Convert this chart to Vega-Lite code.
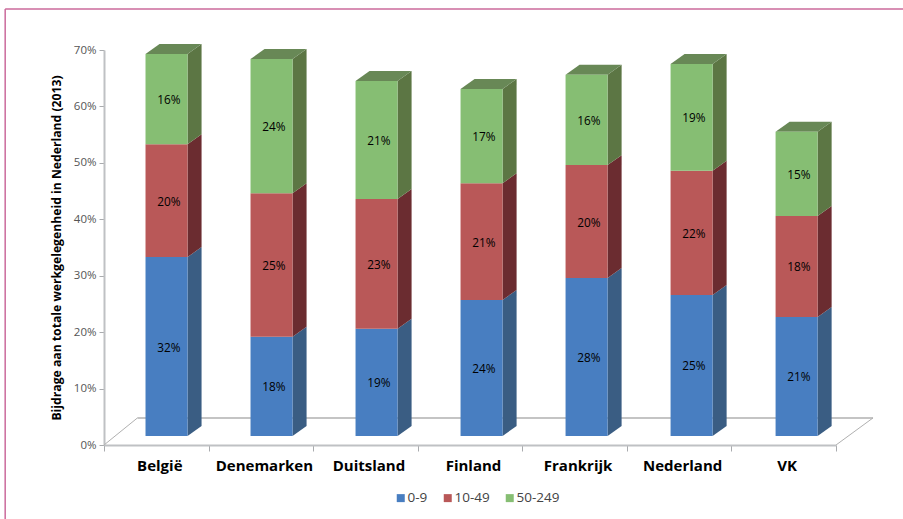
{
"$schema":"https://vega.github.io/schema/vega-lite/v6.json",
"width":732,"height":395,
"autosize":"none",
"padding":{"left":104,"top":50,"right":67,"bottom":74},
"background":"white",
"config":{"view":{"stroke":null},"font":"Open Sans"},
"data":{"values":[
{"land":"België","groep":"0-9","waarde":0.317},{"land":"België","groep":"10-49","waarde":0.2},{"land":"België","groep":"50-249","waarde":0.16},
{"land":"Denemarken","groep":"0-9","waarde":0.176},{"land":"Denemarken","groep":"10-49","waarde":0.254},{"land":"Denemarken","groep":"50-249","waarde":0.238},
{"land":"Duitsland","groep":"0-9","waarde":0.19},{"land":"Duitsland","groep":"10-49","waarde":0.23},{"land":"Duitsland","groep":"50-249","waarde":0.209},
{"land":"Finland","groep":"0-9","waarde":0.241},{"land":"Finland","groep":"10-49","waarde":0.207},{"land":"Finland","groep":"50-249","waarde":0.167},
{"land":"Frankrijk","groep":"0-9","waarde":0.28},{"land":"Frankrijk","groep":"10-49","waarde":0.2},{"land":"Frankrijk","groep":"50-249","waarde":0.16},
{"land":"Nederland","groep":"0-9","waarde":0.25},{"land":"Nederland","groep":"10-49","waarde":0.22},{"land":"Nederland","groep":"50-249","waarde":0.189},
{"land":"VK","groep":"0-9","waarde":0.211},{"land":"VK","groep":"10-49","waarde":0.179},{"land":"VK","groep":"50-249","waarde":0.149}
]},
"transform":[
{"calculate":"indexof(['België','Denemarken','Duitsland','Finland','Frankrijk','Nederland','VK'],datum.land)*1.0042","as":"i"},
{"stack":"waarde","groupby":["land"],"sort":[{"field":"groep","order":"ascending"}],"as":["s0","s1"]},
{"calculate":"datum.s0+0.016","as":"a"},
{"calculate":"datum.s1+0.016","as":"b"},
{"calculate":"(datum.a+datum.b)/2","as":"m"},
{"calculate":"datum.i+0.397","as":"xl"},
{"calculate":"datum.i+0.799","as":"xr"},
{"calculate":"datum.i+0.62","as":"xt"},
{"calculate":"datum.land+datum.groep","as":"key"},
{"calculate":"[0,1]","as":"d"},
{"flatten":["d"]},
{"calculate":"datum.xr+datum.d*0.134","as":"sx"},
{"calculate":"datum.a+datum.d*0.0177","as":"sa"},
{"calculate":"datum.b+datum.d*0.0177","as":"sb"},
{"calculate":"datum.xl+datum.d*0.134","as":"tx1"},
{"calculate":"datum.xr+datum.d*0.134","as":"tx2"}
],
"layer":[
{"mark":{"type":"rect","opacity":0},
 "encoding":{
  "x":{"field":"land","type":"nominal","sort":null,"scale":{"type":"band","paddingInner":0,"paddingOuter":0},
   "axis":{"title":null,"labelAngle":0,"bandPosition":0,"tickBand":"extent","labelFont":"Open Sans","labelFontWeight":"bold","labelFontSize":15,"labelColor":"#000000","labelPadding":7,"labelOffset":3,"tickSize":6,"tickColor":"#a9abae","domainColor":"#bfc1c4","domainWidth":2,"tickWidth":1,"grid":false}},
  "y":{"field":"a","type":"quantitative","stack":null,"scale":{"domain":[0,0.7],"nice":false},
   "axis":{"title":"Bijdrage aan totale werkgelegenheid in Nederland (2013)","titleFont":"Open Sans","titleFontWeight":"bold","titleFontSize":12.2,"titleColor":"#000000","titlePadding":10,"format":".0%","values":[0,0.1,0.2,0.3,0.4,0.5,0.6,0.7],"labelFont":"Open Sans","labelFontSize":11.5,"labelColor":"#555555","labelPadding":3,"tickSize":5,"tickColor":"#a9abae","domainColor":"#bfc1c4","domainWidth":2,"grid":false}}
 }},
{"data":{"values":[{}]},"mark":{"type":"rule","color":"#c4c4c4","strokeWidth":2},
 "encoding":{"x":{"datum":0.32,"type":"quantitative","scale":{"domain":[0,7]},"axis":null},"x2":{"datum":7.354},"y":{"datum":0.048,"type":"quantitative"}}},
{"data":{"values":[{}]},"mark":{"type":"rule","color":"#b0b0b0","strokeWidth":1},
 "encoding":{"x":{"datum":0,"type":"quantitative","scale":{"domain":[0,7]},"axis":null},"x2":{"datum":0.32},"y":{"datum":0,"type":"quantitative"},"y2":{"datum":0.048}}},
{"data":{"values":[{}]},"mark":{"type":"rule","color":"#b0b0b0","strokeWidth":1},
 "encoding":{"x":{"datum":7,"type":"quantitative","scale":{"domain":[0,7]},"axis":null},"x2":{"datum":7.354},"y":{"datum":0,"type":"quantitative"},"y2":{"datum":0.048}}},
{"data":{"values":[{}]},"mark":{"type":"rule","color":"#cb6a9b","strokeWidth":1.5},
 "encoding":{"x":{"datum":-0.945,"type":"quantitative","scale":{"domain":[0,7]},"axis":null},"y":{"datum":0.7727,"type":"quantitative"},"y2":{"datum":-0.14}}},
{"data":{"values":[{}]},"mark":{"type":"rule","color":"#cb6a9b","strokeWidth":1.5},
 "encoding":{"x":{"datum":-0.945,"type":"quantitative","scale":{"domain":[0,7]},"axis":null},"x2":{"datum":7.65},"y":{"datum":0.7727,"type":"quantitative"}}},
{"mark":{"type":"area","orient":"vertical"},
 "encoding":{
  "x":{"field":"sx","type":"quantitative","scale":{"domain":[0,7]},"axis":null},
  "y":{"field":"sa","type":"quantitative","stack":null},
  "y2":{"field":"sb"},
  "detail":{"field":"key"},
  "color":{"field":"groep","type":"nominal","scale":{"domain":["0-9","10-49","50-249"],"range":["#3a5d83","#6b2c30","#5c7644"]},"legend":null}
 }},
{"transform":[{"filter":"datum.groep==='50-249'"}],
 "mark":{"type":"area","orient":"horizontal","color":"#688856"},
 "encoding":{
  "y":{"field":"sb","type":"quantitative","stack":null},
  "x":{"field":"tx1","type":"quantitative","scale":{"domain":[0,7]},"axis":null},
  "x2":{"field":"tx2"},
  "detail":{"field":"land"}
 }},
{"transform":[{"filter":"datum.d===0"}],
 "mark":{"type":"rect"},
 "encoding":{
  "x":{"field":"xl","type":"quantitative","scale":{"domain":[0,7]},"axis":null},
  "x2":{"field":"xr"},
  "y":{"field":"a","type":"quantitative"},
  "y2":{"field":"b"},
  "color":{"field":"groep","type":"nominal","scale":{"domain":["0-9","10-49","50-249"],"range":["#487ec1","#b95858","#86be73"]},
   "legend":{"title":null,"orient":"none","legendX":290,"legendY":441,"direction":"horizontal","columns":3,"symbolType":"square","symbolSize":64,"symbolStrokeWidth":0,"labelFont":"Open Sans","labelFontSize":13.5,"labelColor":"#444444","labelOffset":0,"columnPadding":13}}
 }},
{"transform":[{"filter":"datum.d===0"}],
 "mark":{"type":"text","font":"Open Sans","fontSize":11.8,"color":"#000000","dy":1},
 "encoding":{
  "x":{"field":"xt","type":"quantitative","scale":{"domain":[0,7]},"axis":null},
  "y":{"field":"m","type":"quantitative"},
  "text":{"field":"waarde","type":"quantitative","format":".0%"}
 }}
],
"resolve":{"scale":{"x":"independent","color":"independent"},"axis":{"x":"independent"}}
}
